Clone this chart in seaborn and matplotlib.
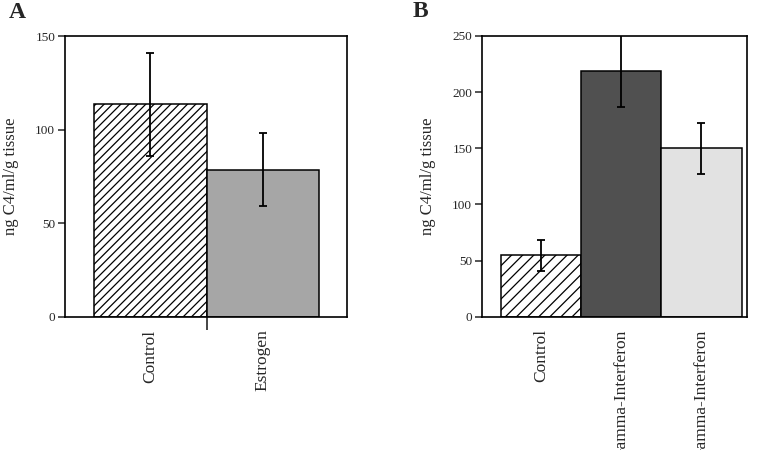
import numpy as np
import pandas as pd
import matplotlib
matplotlib.use("Agg")
import matplotlib.pyplot as plt
import seaborn as sns

# Panel A
groups_a = ["Control", "Estrogen"]
means_a = [113.5, 78.5]
errs_a = [27.5, 19.5]

# Panel B
groups_b = ["Control", "Gamma-Interferon", "Gamma-Interferon"]
means_b = [54.5, 218.5, 150.0]
errs_b = [14.0, 32.0, 22.5]

sns.set_theme(style="ticks")
plt.rcParams["font.family"] = ["Liberation Serif", "DejaVu Serif"]
plt.rcParams["hatch.linewidth"] = 0.9

fig = plt.figure(figsize=(7.62, 4.5), dpi=100)
ax_a = fig.add_axes([0.0853, 0.2956, 0.3701, 0.6244])
ax_b = fig.add_axes([0.6325, 0.2963, 0.3478, 0.6237])


def draw_panel(ax, labels, means, errs, fills, hatches, ymax, yticks, mid_tick, xlim):
    df = pd.DataFrame({"pos": range(len(labels)), "value": means})
    sns.barplot(data=df, x="pos", y="value", ax=ax, width=1.0,
                color="white", edgecolor="black", linewidth=1.1,
                errorbar=None, saturation=1)
    for patch, fc, h in zip(ax.patches, fills, hatches):
        patch.set_facecolor(fc)
        if h:
            patch.set_hatch(h)
    ax.errorbar(range(len(labels)), means, yerr=errs, fmt="none",
                ecolor="black", elinewidth=1.3, capsize=3, capthick=1.3,
                zorder=5)
    ax.set_ylim(0, ymax)
    ax.set_xlim(*xlim)
    ax.set_yticks(yticks)
    ax.set_xticks(range(len(labels)))
    ax.set_xticklabels(labels, rotation=90, fontsize=12.5, va="top")
    ax.tick_params(axis="x", length=0, pad=9)
    ax.set_xticks([mid_tick], minor=True)
    ax.tick_params(axis="x", which="minor", length=9, width=1.2, direction="out")
    ax.tick_params(axis="y", length=5, width=1.1, labelsize=9.5, pad=2)
    ax.set_xlabel("")
    ax.set_ylabel("ng C4/ml/g tissue", fontsize=12, labelpad=12)
    for s in ax.spines.values():
        s.set_linewidth(1.2)
        s.set_color("black")
        s.set_visible(True)


draw_panel(ax_a, groups_a, means_a, errs_a,
           ["white", "#a6a6a6"], ["////", None],
           150, [0, 50, 100, 150], 0.5, (-0.763, 1.754))
draw_panel(ax_b, groups_b, means_b, errs_b,
           ["white", "#505050", "#e2e2e2"], ["///", None, None],
           250, [0, 50, 100, 150, 200, 250], 1.0, (-0.735, 2.567))

fig.text(0.012, 0.995, "A", fontsize=17, fontweight="bold", va="top",
         family=["Liberation Serif"])
fig.text(0.541, 0.997, "B", fontsize=17, fontweight="bold", va="top",
         family=["Liberation Serif"])

fig.savefig("out.png", dpi=100)
